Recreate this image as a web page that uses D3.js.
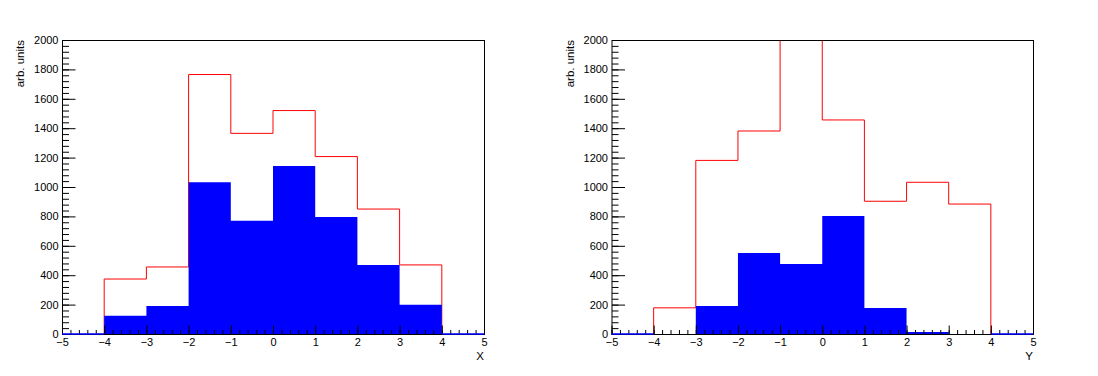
<!DOCTYPE html>
<html>
<head>
<meta charset="utf-8">
<script src="https://cdn.jsdelivr.net/npm/d3@7"></script>
<style>
  body { margin: 0; background: #fff; }
  text { font-family: "Liberation Sans", Arial, sans-serif; }
</style>
</head>
<body>
<div id="res"></div>
<script>
// bin edges shared by both histograms
var binEdges = [-5, -4, -3, -2, -1, 0, 1, 2, 3, 4, 5];
var xTicks = [-5, -4, -3, -2, -1, 0, 1, 2, 3, 4, 5];
var yTicks = [0, 200, 400, 600, 800, 1000, 1200, 1400, 1600, 1800, 2000];

// left pad (X)
var xRed  = [0, 374, 456, 1765, 1365, 1520, 1207, 850, 470, 0];
var xBlue = [0, 124, 190, 1033, 770, 1143, 796, 470, 199, 0];
// right pad (Y) - bin -1..0 goes past the top of the frame
var yRed  = [0, 178, 1181, 1381, 2250, 1456, 903, 1032, 884, 0];
var yBlue = [0, 0, 190, 551, 476, 803, 177, 14, 0, 0];

var W = 1098, H = 376;
var svg = d3.select("#res").append("svg")
    .attr("width", W)
    .attr("height", H);

function fmt(d) {
    return d < 0 ? "\u2212" + Math.abs(d) : String(d);
}

// builds step outline for a histogram
function stepPoints(vals, x, y) {
    var pts = [];
    for (var i = 0; i < vals.length; i++) {
        pts.push([x(binEdges[i]), y(vals[i])]);
        pts.push([x(binEdges[i + 1]), y(vals[i])]);
    }
    return pts;
}

function drawPanel(left, right, red, blue, title, id) {
    var top = 40, bottom = 334;
    var x = d3.scaleLinear().domain([-5, 5]).range([left, right]);
    var y = d3.scaleLinear().domain([0, 2000]).range([bottom, top]);
    var g = svg.append("g");

    g.append("clipPath").attr("id", "clip" + id)
      .append("rect")
        .attr("x", left).attr("y", top)
        .attr("width", right - left).attr("height", bottom - top);

    var hist = g.append("g").attr("clip-path", "url(#clip" + id + ")");

    // red outline, only where the histogram has content
    var first = red.findIndex(function(v) { return v > 0; });
    var last = red.length - 1 - red.slice().reverse().findIndex(function(v) { return v > 0; });
    var rp = [[x(binEdges[first]), y(0)]];
    for (var i = first; i <= last; i++) {
        rp.push([x(binEdges[i]), y(red[i])]);
        rp.push([x(binEdges[i + 1]), y(red[i])]);
    }
    rp.push([x(binEdges[last + 1]), y(0)]);
    hist.append("path")
        .attr("d", d3.line()(rp))
        .attr("fill", "none")
        .attr("stroke", "#ff0000")
        .attr("stroke-width", 1);

    // blue filled histogram
    var bp = stepPoints(blue, x, y);
    bp.unshift([x(binEdges[0]), y(0)]);
    bp.push([x(binEdges[binEdges.length - 1]), y(0)]);
    hist.append("path")
        .attr("d", d3.line()(bp) + "Z")
        .attr("fill", "#0000ff")
        .attr("stroke", "none");

    // frame
    g.append("rect")
        .attr("x", left + 0.5).attr("y", top + 0.5)
        .attr("width", right - left).attr("height", bottom - top)
        .attr("fill", "none").attr("stroke", "#000").attr("stroke-width", 1);

    // y axis
    var yMinor = d3.range(0, 2001, 40);
    g.append("g")
        .attr("transform", "translate(" + (left + 0.5) + ",0)")
        .call(d3.axisLeft(y).tickValues(yMinor).tickSize(-6.5).tickFormat(""))
        .call(function(a) { a.select(".domain").remove(); });
    g.append("g")
        .attr("transform", "translate(" + (left + 0.5) + ",0)")
        .call(d3.axisLeft(y).tickValues(yTicks).tickSize(-13).tickPadding(4).tickFormat(fmt))
        .call(function(a) {
            a.select(".domain").remove();
            a.selectAll("text").style("font-size", "11px").attr("fill", "#000")
                .style("font-family", '"Liberation Sans", Arial, sans-serif');
        });

    // x axis
    var xMinor = d3.range(-50, 51, 2).map(function(d) { return d / 10; });
    g.append("g")
        .attr("transform", "translate(0," + (bottom + 0.5) + ")")
        .call(d3.axisBottom(x).tickValues(xMinor).tickSize(-4.5).tickFormat(""))
        .call(function(a) { a.select(".domain").remove(); });
    g.append("g")
        .attr("transform", "translate(0," + (bottom + 0.5) + ")")
        .call(d3.axisBottom(x).tickValues(xTicks).tickSize(-9).tickPadding(4).tickFormat(fmt))
        .call(function(a) {
            a.select(".domain").remove();
            a.selectAll("text").style("font-size", "11px").attr("fill", "#000")
                .style("font-family", '"Liberation Sans", Arial, sans-serif');
        });

    // blue baseline where both histograms are empty
    blue.forEach(function(v, i) {
        if (v === 0 && red[i] === 0) {
            g.append("line")
                .attr("x1", x(binEdges[i])).attr("x2", x(binEdges[i + 1]))
                .attr("y1", bottom).attr("y2", bottom)
                .attr("stroke", "#0000ff").attr("stroke-width", 1.5);
        }
    });

    // titles
    g.append("text")
        .attr("x", right)
        .attr("y", 360)
        .attr("text-anchor", "end")
        .style("font-size", "11.5px")
        .text(title);

    g.append("text")
        .attr("transform", "translate(" + (left - 38) + "," + top + ") rotate(-90)")
        .attr("text-anchor", "end")
        .style("font-size", "11.5px")
        .text("arb. units");
}

drawPanel(62, 484, xRed, xBlue, "X", 1);
drawPanel(611.5, 1033, yRed, yBlue, "Y", 2);
</script>
</body>
</html>
